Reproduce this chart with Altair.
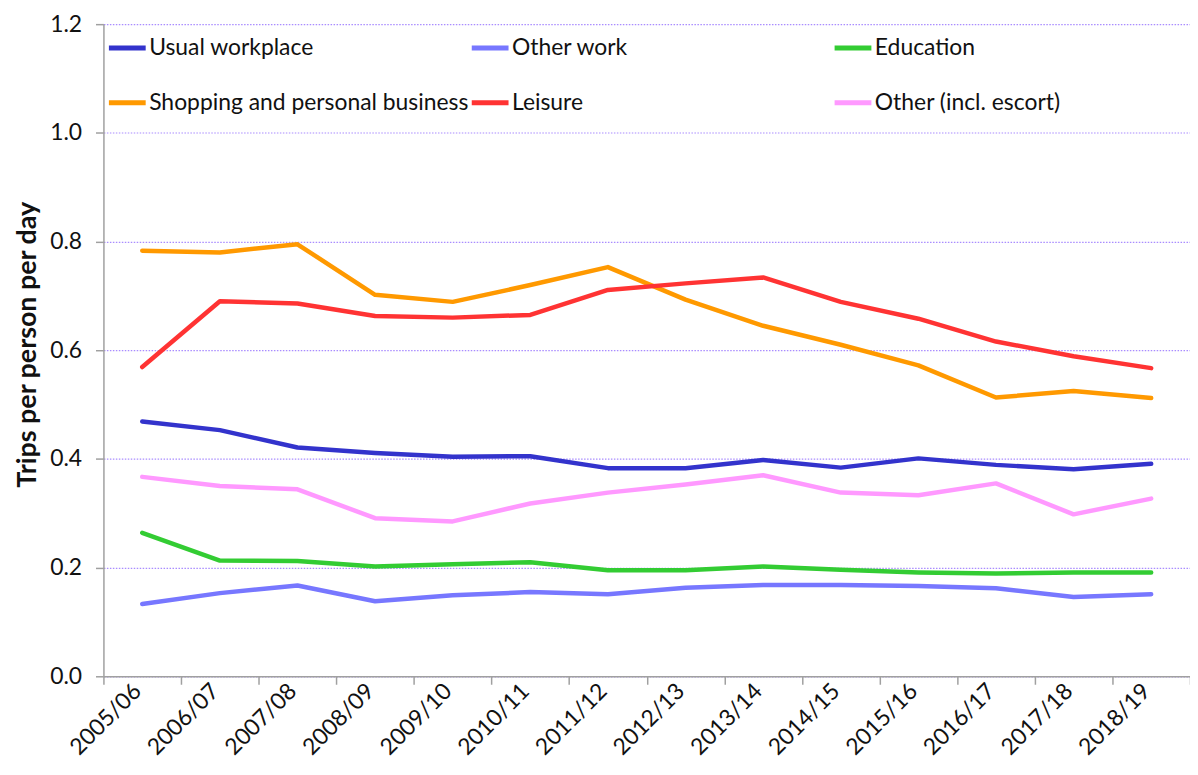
import altair as alt
import pandas as pd

years = ["2005/06", "2006/07", "2007/08", "2008/09", "2009/10", "2010/11", "2011/12",
         "2012/13", "2013/14", "2014/15", "2015/16", "2016/17", "2017/18", "2018/19"]

usual_workplace = [0.469, 0.453, 0.421, 0.411, 0.404, 0.405, 0.383, 0.383, 0.398, 0.384, 0.401, 0.389, 0.381, 0.391]
other_work = [0.133, 0.153, 0.167, 0.138, 0.149, 0.155, 0.151, 0.163, 0.168, 0.168, 0.166, 0.162, 0.146, 0.151]
education = [0.264, 0.213, 0.212, 0.202, 0.206, 0.210, 0.195, 0.195, 0.202, 0.196, 0.191, 0.189, 0.191, 0.191]
shopping = [0.783, 0.780, 0.795, 0.702, 0.689, 0.720, 0.753, 0.693, 0.645, 0.610, 0.572, 0.513, 0.525, 0.512]
leisure = [0.569, 0.690, 0.686, 0.663, 0.660, 0.665, 0.711, 0.723, 0.734, 0.689, 0.658, 0.616, 0.589, 0.567]
other_escort = [0.367, 0.350, 0.344, 0.291, 0.285, 0.318, 0.338, 0.353, 0.370, 0.338, 0.333, 0.355, 0.298, 0.327]

series_names = ["Usual workplace", "Other work", "Education",
                "Shopping and personal business", "Leisure", "Other (incl. escort)"]
series_values = [usual_workplace, other_work, education, shopping, leisure, other_escort]
series_colors = ["#3333CC", "#7777FF", "#33CC33", "#FF9900", "#FF3333", "#FF99FF"]

rows = []
for name, vals in zip(series_names, series_values):
    for y, v in zip(years, vals):
        rows.append({"year": y, "purpose": name, "value": v})
df = pd.DataFrame(rows)

FONT = "Lato"

chart = alt.Chart(df).mark_line(strokeWidth=4.5, strokeCap="round", strokeJoin="round").encode(
    x=alt.X("year:O", sort=years, bandPosition=0.5,
            scale=alt.Scale(type="band", paddingInner=0, paddingOuter=0),
            axis=alt.Axis(title=None, tickBand="extent", labelAngle=-45, labelFontSize=23,
                          labelFont=FONT, labelColor="#111111", labelPadding=3, labelOffset=-5,
                          labelAlign="right", labelBaseline="middle",
                          domainColor="#A0A0A0", tickColor="#A0A0A0", tickSize=8,
                          domainWidth=1.5, tickWidth=1.5, grid=False)),
    y=alt.Y("value:Q", scale=alt.Scale(domain=[0, 1.2], nice=False),
            axis=alt.Axis(title="Trips per person per day", values=[0, 0.2, 0.4, 0.6, 0.8, 1.0, 1.2],
                          format=".1f", labelFontSize=23, labelFont=FONT, labelColor="#111111",
                          labelPadding=14, tickSize=8, tickColor="#A0A0A0", domainColor="#A0A0A0",
                          domainWidth=1.5, tickWidth=1.5,
                          grid=True, gridColor="#A98CFF", gridDash=[1.5, 1.5], gridWidth=1.2,
                          titleFont=FONT, titleFontSize=27, titleFontWeight="bold", titleColor="#111111",
                          titleX=-76, titleY=322, titleAngle=-90, titleAlign="center",
                          titleBaseline="middle")),
    color=alt.Color("purpose:N", sort=series_names,
                    scale=alt.Scale(domain=series_names, range=series_colors),
                    legend=alt.Legend(title=None, orient="none", legendX=3, legendY=3, columns=3,
                                      direction="horizontal",
                                      symbolType="stroke", symbolStrokeWidth=5, symbolSize=1369,
                                      labelFont=FONT, labelFontSize=23, labelColor="#111111",
                                      labelOffset=1, gridAlign="all", columnPadding=-11, rowPadding=22,
                                      labelLimit=400)),
).properties(
    width=1093,
    height=656,
    autosize=alt.AutoSizeParams(type="none"),
    padding={"left": 96, "top": 14, "right": 0, "bottom": 90},
).configure_view(stroke=None)

chart.save("out.html", embed_options={"renderer": "svg", "actions": False})
